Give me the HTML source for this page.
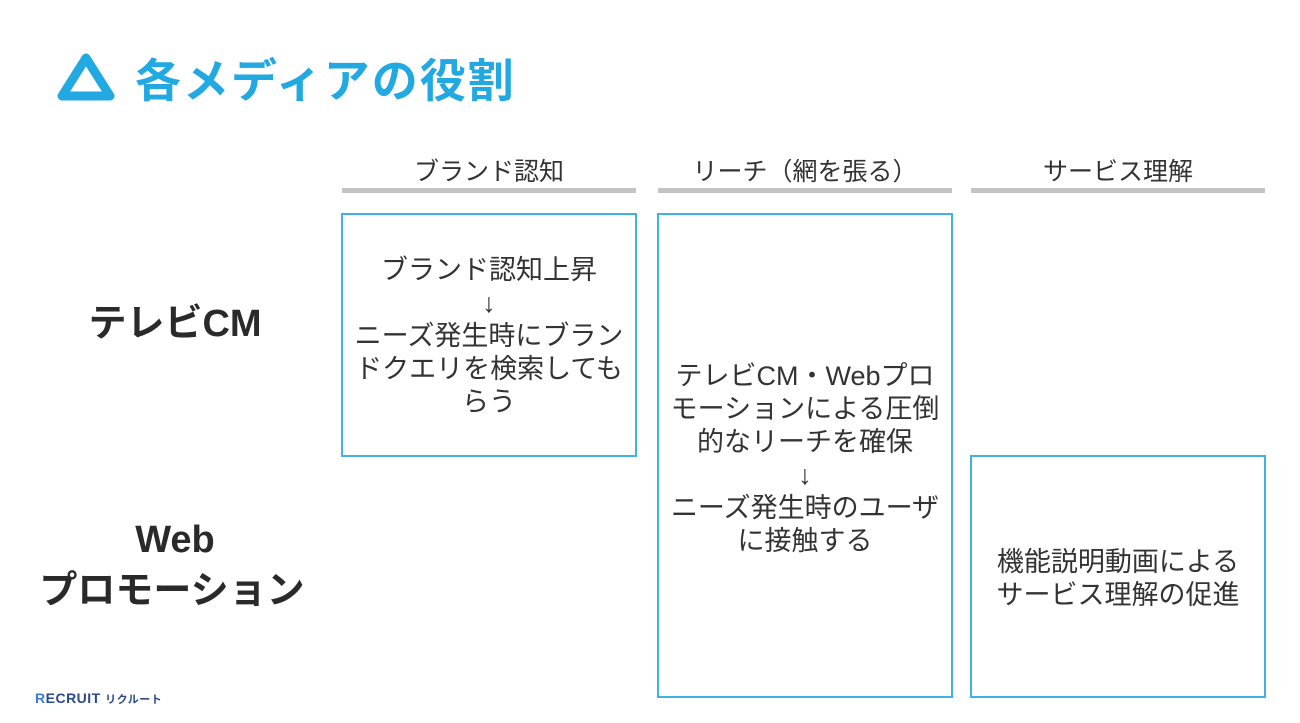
<!DOCTYPE html>
<html><head><meta charset="utf-8"><style>
body{margin:0;width:1300px;height:723px;background:#fff;position:relative;overflow:hidden;font-family:"Liberation Sans","Noto Sans CJK JP",sans-serif;color:#333}
.a{position:absolute}
.title{left:135px;top:51px;font-size:46px;font-weight:bold;color:#22a9e1;line-height:60px;letter-spacing:2px}
.h{font-size:25px;text-align:center;width:294px;top:156px;line-height:32px;color:#333}
.bar{height:5px;background:#c3c3c3;top:188px;width:294px}
.box{border:2px solid #3fb3e6;box-sizing:border-box;display:flex;align-items:center;justify-content:center;text-align:center;font-size:27px;line-height:33px;color:#333}
.lbl{font-size:38px;font-weight:bold;text-align:center;color:#2a2a2a;line-height:50px}
</style></head><body>
<svg class="a" style="left:56px;top:52px" width="60" height="54" viewBox="0 0 60 54"><path d="M30 6 L54 44 L6 44 Z" fill="none" stroke="#22a9e1" stroke-width="9" stroke-linejoin="round"/></svg>
<div class="a title">各メディアの役割</div>
<div class="a h" style="left:342px">ブランド認知</div>
<div class="a h" style="left:658px">リーチ（網を張る）</div>
<div class="a h" style="left:971px">サービス理解</div>
<div class="a bar" style="left:342px"></div>
<div class="a bar" style="left:658px"></div>
<div class="a bar" style="left:971px"></div>
<div class="a box" style="left:341px;top:213px;width:296px;height:244px;padding-top:2px">ブランド認知上昇<br>↓<br>ニーズ発生時にブラン<br>ドクエリを検索しても<br>らう</div>
<div class="a box" style="left:657px;top:213px;width:296px;height:485px;padding-top:6px">テレビCM・Webプロ<br>モーションによる圧倒<br>的なリーチを確保<br>↓<br>ニーズ発生時のユーザ<br>に接触する</div>
<div class="a box" style="left:970px;top:455px;width:296px;height:243px;padding-top:4px">機能説明動画による<br>サービス理解の促進</div>
<div class="a lbl" style="left:25px;width:300px;top:299px">テレビCM</div>
<div class="a lbl" style="left:25px;width:300px;top:515px">Web</div>
<div class="a lbl" style="left:22px;width:300px;top:566px">プロモーション</div>
<div class="a" style="left:35px;top:690px;font-size:14px;font-weight:bold;color:#2a4a8a;letter-spacing:0.5px"><span style="color:#3a7bd5">R</span>ECRUIT <span style="font-size:11px">リクルート</span></div>
</body></html>
